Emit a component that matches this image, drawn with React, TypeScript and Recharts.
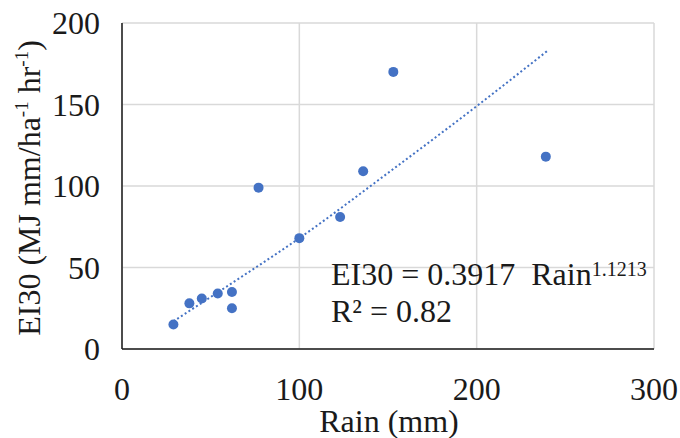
import { ComposedChart, Scatter, Line, XAxis, YAxis, CartesianGrid, Customized } from 'recharts';

// ─── Data ────────────────────────────────────────────────────────────────────

const rain = [29, 38, 45, 54, 62, 62, 77, 100, 123, 136, 153, 239];
const ei30 = [15, 28, 31, 34, 35, 25, 99, 68, 81, 109, 170, 118];

// trendline (dotted power curve)
const trendRain = [29, 60, 100, 150, 200, 240];
const trendEi30 = [17, 39, 68, 108, 149, 183];

const xTicks = [0, 100, 200, 300];
const yTicks = [0, 50, 100, 150, 200];

const points = rain.map((x, i) => ({ x, y: ei30[i] }));
const trend = trendRain.map((x, i) => ({ x, y: trendEi30[i] }));

const BLUE = '#4472C4';
const INK = '#1a1a1a';
const FONT = '"Liberation Serif", "Times New Roman", serif';

// ─── Labels ──────────────────────────────────────────────────────────────────

function YTitle() {
  return (
    <text
      x={40} y={188}
      transform="rotate(-90 40 188)"
      textAnchor="middle"
      fontFamily={FONT} fontSize={32} fill={INK}
    >
      EI30 (MJ mm/ha<tspan fontSize={19} dy={-12}>-1</tspan>
      <tspan dy={12}>{'\u00a0'}hr</tspan><tspan fontSize={19} dy={-12}>-1</tspan>
      <tspan dy={12}>)</tspan>
    </text>
  );
}

function XTitle() {
  return (
    <text x={389} y={432} textAnchor="middle" fontFamily={FONT} fontSize={32} fill={INK}>
      Rain (mm)
    </text>
  );
}

function Equation() {
  return (
    <g fontFamily={FONT} fill={INK}>
      <text x={331} y={285} fontSize={32}>
        {'EI30 = 0.3917\u00a0\u00a0Rain'}<tspan fontSize={20} dy={-9}>1.1213</tspan>
      </text>
      <text x={331} y={322} fontSize={32}>R² = 0.82</text>
    </g>
  );
}

export default function App() {
  return (
    <div style={{ position: 'absolute', left: 0, top: 0, background: '#fff' }}>
      <ComposedChart width={680} height={438} margin={{ top: 23, right: 26, left: 0, bottom: 0 }}>
        <CartesianGrid stroke="#d9d9d9" strokeWidth={1.5} />
        <XAxis
          type="number" dataKey="x" domain={[0, 300]} ticks={xTicks}
          height={89} tickSize={0} tickMargin={28}
          axisLine={{ stroke: INK, strokeWidth: 1.5 }}
          tick={{ fontFamily: FONT, fontSize: 32, fill: INK }}
          allowDuplicatedCategory={false}
        />
        <YAxis
          type="number" dataKey="y" domain={[0, 200]} ticks={yTicks}
          width={122} tickSize={0} tickMargin={22}
          axisLine={{ stroke: INK, strokeWidth: 1.5 }}
          tick={{ fontFamily: FONT, fontSize: 32, fill: INK }}
        />
        <Line
          data={trend} dataKey="y" type="monotone"
          stroke={BLUE} strokeWidth={2} strokeDasharray="2 2.5"
          dot={false} activeDot={false} isAnimationActive={false}
        />
        <Scatter data={points} dataKey="y" fill={BLUE} isAnimationActive={false}
          shape={(p: any) => <circle cx={p.cx} cy={p.cy} r={5} fill={BLUE} />} />
        <Customized component={YTitle} />
        <Customized component={XTitle} />
        <Customized component={Equation} />
      </ComposedChart>
    </div>
  );
}
